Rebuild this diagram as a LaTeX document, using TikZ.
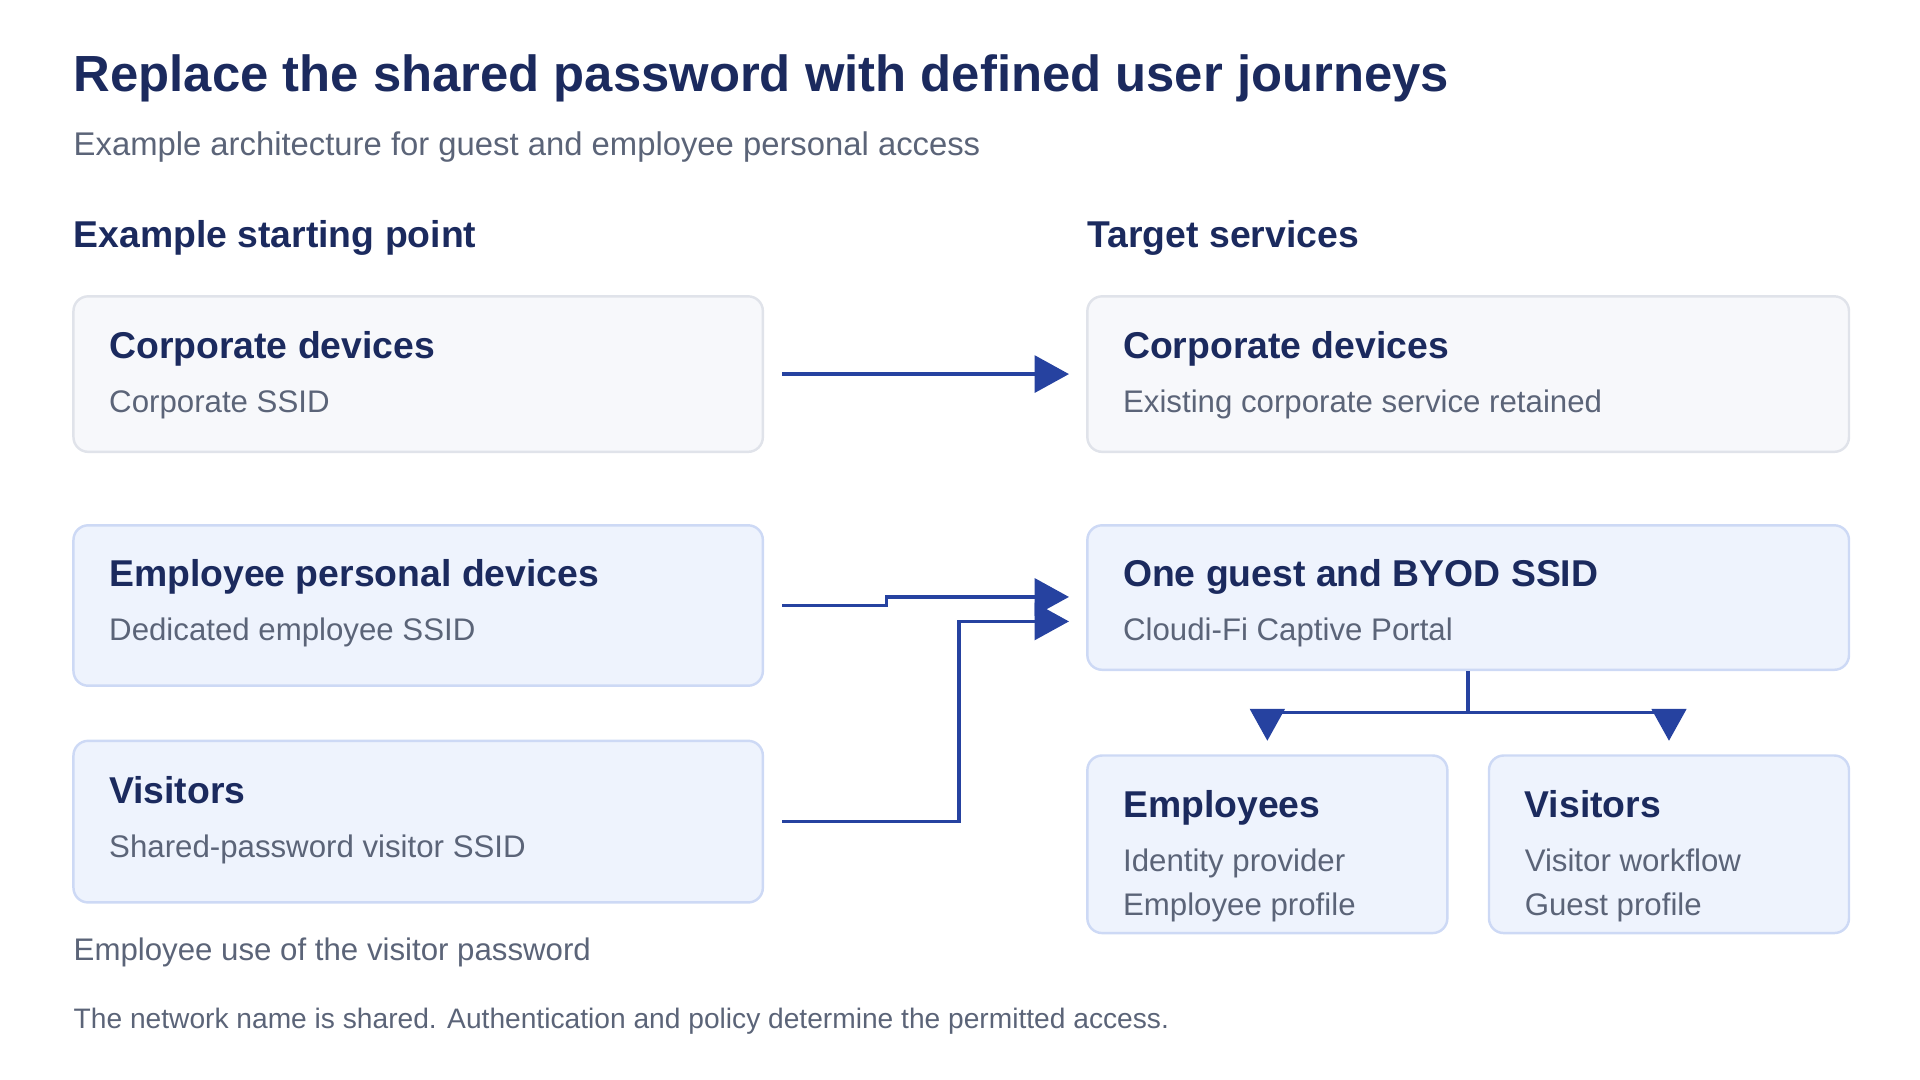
\documentclass[tikz,border=0pt]{standalone}
\usepackage{fontspec}
\setmainfont{Liberation Sans}
\usetikzlibrary{arrows.meta,positioning}
\definecolor{navy}{HTML}{1B2A5E}
\definecolor{slate}{HTML}{5B6478}
\definecolor{flow}{HTML}{2642A0}
\definecolor{greyfill}{HTML}{F7F8FB}
\definecolor{greyline}{HTML}{E0E3EA}
\definecolor{bluefill}{HTML}{EEF3FD}
\definecolor{blueline}{HTML}{CDD9F5}
\tikzstyle{greybox}=[draw=greyline, fill=greyfill, line width=2pt,
                     rounded corners=12pt, inner sep=0pt]
\tikzstyle{bluebox}=[draw=blueline, fill=bluefill, line width=2pt,
                     rounded corners=12pt, inner sep=0pt]
\tikzstyle{head}   =[anchor=base west, inner sep=0pt, text=navy,
                     font=\fontsize{30.5}{34}\selectfont\bfseries]
\tikzstyle{sub}    =[anchor=base west, inner sep=0pt, text=slate,
                     font=\fontsize{25.5}{29}\selectfont]
\tikzstyle{link}   =[draw=flow, line width=3pt,
                     -{Triangle[length=28pt,width=30pt]}]

\begin{document}
\begin{tikzpicture}[x=1pt, y=-1pt]
    \useasboundingbox (0,0) rectangle (1568,882);

    % headings
    \node (title) [head, font=\fontsize{41.5}{45}\selectfont\bfseries] at (60,75)
        {Replace the shared password with defined user journeys};
    \node (intro) [sub, font=\fontsize{26.8}{30}\selectfont] at (60,127)
        {Example architecture for guest and employee personal access};
    \node (left) [head] at (60,202) {Example starting point};
    \node (right) [head] at (888,202) {Target services};

    % starting point
    \node (corp) [greybox, minimum width=563pt, minimum height=127pt,
                  anchor=north west] at (59,241) {};
    \node [head] at (89,293) {Corporate devices};
    \node [sub] at (89,337) {Corporate SSID};

    \node (byod) [bluebox, minimum width=563pt, minimum height=131pt,
                  anchor=north west] at (59,428) {};
    \node [head] at (89,479) {Employee personal devices};
    \node [sub] at (89,523) {Dedicated employee SSID};

    \node (visit) [bluebox, minimum width=563pt, minimum height=132pt,
                   anchor=north west] at (59,604) {};
    \node [head] at (89,656) {Visitors};
    \node [sub] at (89,700) {Shared-password visitor SSID};

    \node (note) [sub] at (60,784) {Employee use of the visitor password};
    \node (foot) [sub, font=\fontsize{23}{27}\selectfont] at (60,840)
        {The network name is shared. Authentication and policy determine the permitted access.};

    % target services
    \node (tcorp) [greybox, minimum width=622pt, minimum height=127pt,
                   anchor=north west] at (887,241) {};
    \node [head] at (917,293) {Corporate devices};
    \node [sub] at (917,337) {Existing corporate service retained};

    \node (guest) [bluebox, minimum width=622pt, minimum height=118pt,
                   anchor=north west] at (887,428) {};
    \node [head] at (917,479) {One guest and BYOD SSID};
    \node [sub] at (917,523) {Cloudi-Fi Captive Portal};

    \node (staff) [bluebox, minimum width=294pt, minimum height=145pt,
                   anchor=north west] at (887,616) {};
    \node [head] at (917,668) {Employees};
    \node [sub] at (917,712) {Identity provider};
    \node [sub] at (917,748) {Employee profile};

    \node (guests) [bluebox, minimum width=294pt, minimum height=145pt,
                    anchor=north west] at (1215,616) {};
    \node [head] at (1245,668) {Visitors};
    \node [sub] at (1245,712) {Visitor workflow};
    \node [sub] at (1245,748) {Guest profile};

    % connectors
    \draw [link] ([xshift=15pt]corp.east) -- ([xshift=-14pt]tcorp.west);
    \draw [link] ([xshift=15pt]byod.east) -- ++(85,0) -- ++(0,-7)
        -- ([xshift=-14pt,yshift=0.5pt]guest.west);
    \draw [link] ([xshift=15pt]visit.east) -- ++(144,0)
        |- ([xshift=-14pt,yshift=-19.5pt]guest.west);
    \coordinate (split) at ([yshift=-34pt]guest.south);
    \draw [draw=flow, line width=3pt] (guest.south) -- (split);
    \draw [link, -{Triangle[length=26pt,width=28pt]}] (split) -| ([yshift=11pt]staff.north);
    \draw [link, -{Triangle[length=26pt,width=28pt]}] (split) -| ([yshift=11pt]guests.north);
\end{tikzpicture}
\end{document}
